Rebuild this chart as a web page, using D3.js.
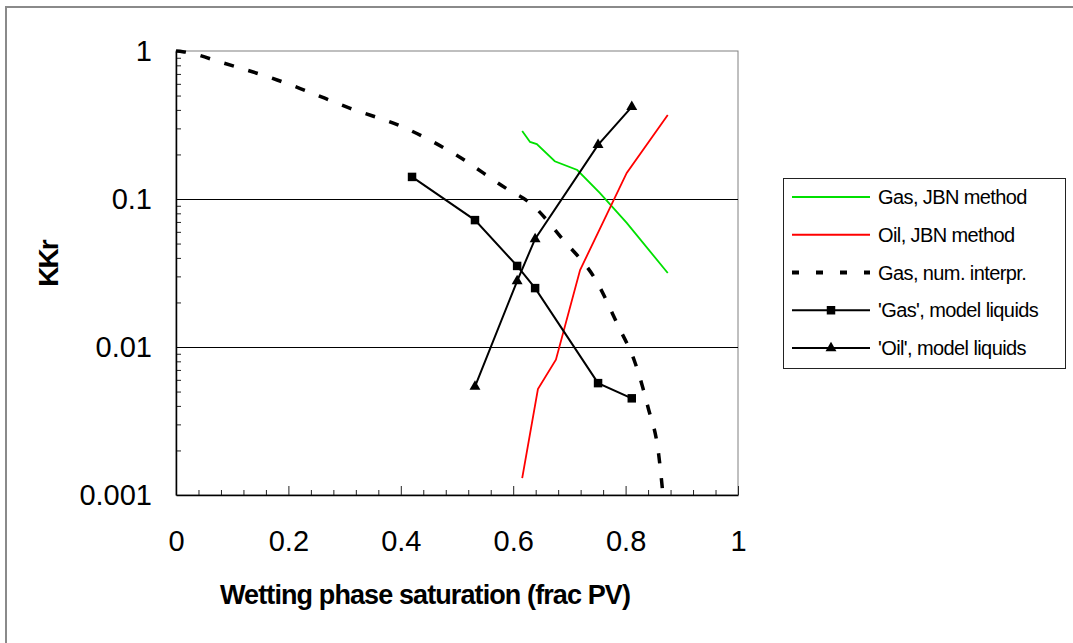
<!DOCTYPE html>
<html>
<head>
<meta charset="utf-8">
<script src="https://cdn.jsdelivr.net/npm/d3@7"></script>
<style>
  body { margin: 0; background: #fff; }
  svg { display: block; font-family: "Liberation Sans", Arial, sans-serif; }
</style>
</head>
<body>
<svg width="1073" height="643"></svg>
<script>
// data
var gasNumS  = [0, 0.012, 0.084, 0.18, 0.22, 0.31, 0.404, 0.496, 0.589, 0.63, 0.689, 0.749, 0.786, 0.817, 0.84, 0.859, 0.866];
var gasNumKr = [1, 0.99, 0.83, 0.637, 0.56, 0.41, 0.306, 0.201, 0.117, 0.094, 0.053, 0.0275, 0.0141, 0.0078, 0.0039, 0.00186, 0.00105];

var gasJbnS  = [0.616, 0.63, 0.642, 0.674, 0.714, 0.754, 0.802, 0.875];
var gasJbnKr = [0.288, 0.243, 0.235, 0.18, 0.157, 0.11, 0.069, 0.0316];

var oilJbnS  = [0.616, 0.644, 0.676, 0.719, 0.802, 0.875];
var oilJbnKr = [0.0013, 0.0052, 0.0082, 0.0331, 0.15, 0.37];

var gasModS  = [0.42, 0.532, 0.607, 0.639, 0.751, 0.811];
var gasModKr = [0.141, 0.072, 0.0353, 0.025, 0.0057, 0.0045];

var oilModS  = [0.532, 0.607, 0.639, 0.751, 0.811];
var oilModKr = [0.0054, 0.0279, 0.0537, 0.232, 0.419];

var xTicks = [0, 0.2, 0.4, 0.6, 0.8, 1];
var xTickLabels = ["0", "0.2", "0.4", "0.6", "0.8", "1"];
var yTicks = [0.001, 0.01, 0.1, 1];
var yTickLabels = ["0.001", "0.01", "0.1", "1"];
var legendNames = ["Gas, JBN method", "Oil, JBN method", "Gas, num. interpr.", "'Gas', model liquids", "'Oil', model liquids"];

var svg = d3.select("svg");

var x = d3.scaleLinear().domain([0, 1]).range([176, 738]);
var y = d3.scaleLog().domain([0.001, 1]).range([495, 51]);

// outer chart border (only left + top fall inside the window)
svg.append("rect")
   .attr("x", 6).attr("y", 7)
   .attr("width", 1200).attr("height", 800)
   .attr("fill", "none")
   .attr("stroke", "#8a8a8a")
   .attr("stroke-width", 2);

// plot area frame
svg.append("rect")
   .attr("x", x(0)).attr("y", y(1))
   .attr("width", x(1) - x(0)).attr("height", y(0.001) - y(1))
   .attr("fill", "none")
   .attr("stroke", "#808080")
   .attr("stroke-width", 1);

// gridlines
svg.append("g")
   .selectAll("line")
   .data([0.01, 0.1])
   .enter().append("line")
   .attr("x1", x(0)).attr("x2", x(1))
   .attr("y1", function(d) { return Math.round(y(d)) + 0.5; })
   .attr("y2", function(d) { return Math.round(y(d)) + 0.5; })
   .attr("stroke", "#000")
   .attr("stroke-width", 1);

// minor ticks
var xMinor = d3.range(0, 1.0001, 0.04).filter(function(d) { return Math.abs(d * 5 - Math.round(d * 5)) > 1e-6; });
svg.append("g")
   .attr("transform", "translate(0," + y(0.001) + ")")
   .call(d3.axisBottom(x).tickValues(xMinor).tickSize(-5).tickFormat(""))
   .call(function(g) { g.select(".domain").remove(); g.selectAll("line").attr("stroke", "#222"); });

var yMinor = [];
[0.001, 0.01, 0.1].forEach(function(b) { d3.range(2, 10).forEach(function(m) { yMinor.push(b * m); }); });
svg.append("g")
   .attr("transform", "translate(" + x(0) + ",0)")
   .call(d3.axisLeft(y).tickValues(yMinor).tickSize(-5).tickFormat(""))
   .call(function(g) { g.select(".domain").remove(); g.selectAll("line").attr("stroke", "#222"); });

// x axis
var xAxis = svg.append("g")
   .attr("transform", "translate(0," + y(0.001) + ")")
   .call(d3.axisBottom(x).tickValues(xTicks).tickSizeInner(-9).tickSizeOuter(0).tickPadding(35)
         .tickFormat(function(d, i) { return xTickLabels[i]; }));
xAxis.select(".domain").attr("stroke", "#000").attr("stroke-width", 1.5);
xAxis.selectAll("line").attr("stroke", "#222");
xAxis.selectAll("text").attr("font-size", 29).attr("fill", "#000").attr("font-family", "Liberation Sans, Arial, sans-serif");

// y axis
var yAxis = svg.append("g")
   .attr("transform", "translate(" + x(0) + ",0)")
   .call(d3.axisLeft(y).tickValues(yTicks).tickSizeInner(0).tickSizeOuter(0).tickPadding(24)
         .tickFormat(function(d, i) { return yTickLabels[i]; }));
yAxis.select(".domain").attr("stroke", "#000").attr("stroke-width", 1.5);
yAxis.selectAll("text").attr("font-size", 29).attr("fill", "#000").attr("font-family", "Liberation Sans, Arial, sans-serif");

// axis titles
svg.append("text")
   .attr("x", 425).attr("y", 604)
   .attr("text-anchor", "middle")
   .attr("font-size", 27).attr("font-weight", "bold")
   .attr("letter-spacing", -0.9)
   .text("Wetting phase saturation (frac PV)");

svg.append("text")
   .attr("transform", "translate(58,264) rotate(-90)")
   .attr("text-anchor", "middle")
   .attr("font-size", 28).attr("font-weight", "bold")
   .attr("letter-spacing", -2)
   .text("KKr");

function zip(s, k) { return s.map(function(d, i) { return [d, k[i]]; }); }

var line = d3.line()
    .x(function(d) { return x(d[0]); })
    .y(function(d) { return y(d[1]); });

var smooth = d3.line()
    .x(function(d) { return x(d[0]); })
    .y(function(d) { return y(d[1]); })
    .curve(d3.curveMonotoneX);

var plot = svg.append("g");

plot.append("path")
    .attr("d", smooth(zip(gasNumS, gasNumKr)))
    .attr("fill", "none").attr("stroke", "#000")
    .attr("stroke-width", 3.5).attr("stroke-dasharray", "10,15");

plot.append("path")
    .attr("d", line(zip(gasJbnS, gasJbnKr)))
    .attr("fill", "none").attr("stroke", "#00e000").attr("stroke-width", 1.8);

plot.append("path")
    .attr("d", line(zip(oilJbnS, oilJbnKr)))
    .attr("fill", "none").attr("stroke", "#ff0000").attr("stroke-width", 1.8);

plot.append("path")
    .attr("d", line(zip(gasModS, gasModKr)))
    .attr("fill", "none").attr("stroke", "#000").attr("stroke-width", 2);

plot.append("path")
    .attr("d", line(zip(oilModS, oilModKr)))
    .attr("fill", "none").attr("stroke", "#000").attr("stroke-width", 2);

var square = d3.symbol().type(d3.symbolSquare).size(72);
var triangle = d3.symbol().type(d3.symbolTriangle).size(52);

plot.selectAll(".sq")
    .data(zip(gasModS, gasModKr))
    .enter().append("path")
    .attr("class", "sq")
    .attr("d", square)
    .attr("transform", function(d) { return "translate(" + x(d[0]) + "," + y(d[1]) + ")"; })
    .attr("fill", "#000");

plot.selectAll(".tri")
    .data(zip(oilModS, oilModKr))
    .enter().append("path")
    .attr("class", "tri")
    .attr("d", triangle)
    .attr("transform", function(d) { return "translate(" + x(d[0]) + "," + y(d[1]) + ")"; })
    .attr("fill", "#000");

// legend
var leg = svg.append("g");
leg.append("rect")
   .attr("x", 783.5).attr("y", 178.5)
   .attr("width", 282).attr("height", 190)
   .attr("fill", "#fff").attr("stroke", "#222").attr("stroke-width", 1);

var ly = d3.scalePoint().domain(legendNames).range([197, 348]);
var legStyles = [
  { stroke: "#00e000", w: 1.8, dash: null, mark: null },
  { stroke: "#ff0000", w: 1.8, dash: null, mark: null },
  { stroke: "#000", w: 4, dash: "7,17", mark: null },
  { stroke: "#000", w: 2, dash: null, mark: square },
  { stroke: "#000", w: 2, dash: null, mark: triangle }
];

legendNames.forEach(function(name, i) {
    var st = legStyles[i];
    var row = leg.append("g").attr("transform", "translate(0," + ly(name) + ")");
    row.append("line")
       .attr("x1", 792).attr("x2", 870)
       .attr("stroke", st.stroke).attr("stroke-width", st.w)
       .attr("stroke-dasharray", st.dash);
    if (st.mark) {
        row.append("path").attr("d", st.mark).attr("transform", "translate(831,0)").attr("fill", "#000");
    }
    row.append("text")
       .attr("x", 878).attr("dy", "0.35em")
       .attr("font-size", 20).attr("letter-spacing", -0.6)
       .text(name);
});
</script>
</body>
</html>
